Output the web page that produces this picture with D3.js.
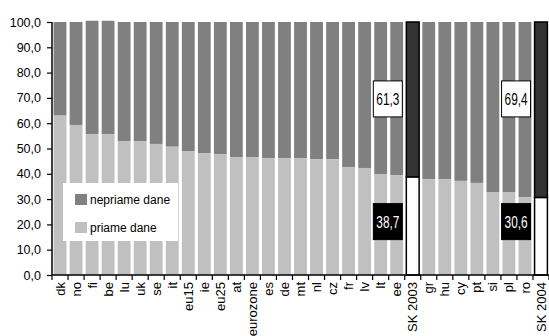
<!DOCTYPE html>
<html><head><meta charset="utf-8">
<script src="https://cdn.jsdelivr.net/npm/d3@7"></script>
<style>
html,body{margin:0;padding:0;background:#fff;}
svg{display:block;font-family:"Liberation Sans",Arial,sans-serif;}
</style></head>
<body>
<svg id="chart" width="549" height="336"></svg>
<script>
const categories = ["dk","no","fi","be","lu","uk","se","it","eu15","ie","eu25","at","eurozone","es","de","mt","nl","cz","fr","lv","lt","ee","SK 2003","gr","hu","cy","pt","si","pl","ro","SK 2004"];
const direct   = [63.0,59.3,55.7,55.7,52.8,52.8,51.8,50.7,49.0,48.2,47.8,46.6,46.6,46.2,46.2,46.2,45.8,45.8,42.7,42.3,39.9,39.5,38.7,37.9,37.9,37.2,36.4,32.8,32.8,30.8,30.6];
const indirect = [37.0,40.7,44.8,44.8,47.2,47.2,48.2,49.3,51.0,51.8,52.2,53.4,53.4,53.8,53.8,53.8,54.2,54.2,57.3,57.7,60.1,60.5,61.3,62.1,62.1,62.8,63.6,67.2,67.2,69.2,69.4];
const highlighted = ["SK 2003","SK 2004"];
const yTicks = [0,10,20,30,40,50,60,70,80,90,100];
const seriesNames = ["nepriame dane","priame dane"];

const svg = d3.select("#chart");
const m = {left:52, right:549, top:22, bottom:275};
const x = d3.scaleBand().domain(categories).range([m.left, m.right]).paddingInner(0.2).paddingOuter(0.1);
const y = d3.scaleLinear().domain([0,100]).range([m.bottom, m.top]);
const fmt = v => d3.format(".1f")(v).replace(".", ",");

const data = categories.map((c,i)=>({c, d:direct[i], n:indirect[i], hl: highlighted.includes(c)}));

// indirect (top)
svg.append("g").selectAll("rect").data(data).join("rect")
  .attr("x", d=>x(d.c)).attr("width", x.bandwidth())
  .attr("y", d=>y(d.d + d.n)).attr("height", d=>y(d.d) - y(d.d + d.n))
  .attr("fill", d=>d.hl ? "#333333" : "#808080")
  .attr("stroke", d=>d.hl ? "#000" : "none").attr("stroke-width", 1.5);
// direct (bottom)
svg.append("g").selectAll("rect").data(data).join("rect")
  .attr("x", d=>x(d.c)).attr("width", x.bandwidth())
  .attr("y", d=>y(d.d)).attr("height", d=>y(0) - y(d.d))
  .attr("fill", d=>d.hl ? "#ffffff" : "#c0c0c0")
  .attr("stroke", d=>d.hl ? "#000" : "none").attr("stroke-width", 1.5);

// legend
const lg = svg.append("g");
lg.append("rect").attr("x",63).attr("y",183).attr("width",115).attr("height",58).attr("fill","#fff");
[["#808080",seriesNames[0],194],["#c0c0c0",seriesNames[1],222]].forEach(([col,t,yy])=>{
  lg.append("rect").attr("x",75).attr("y",yy).attr("width",12).attr("height",11).attr("fill",col);
  lg.append("text").attr("x",90).attr("y",yy+9.5).attr("font-size",12).attr("fill","#000").text(t);
});

// y axis
const ya = svg.append("g").attr("transform",`translate(${m.left},0)`)
  .call(d3.axisLeft(y).tickValues(yTicks).tickFormat(fmt).tickSize(5).tickPadding(6));
ya.select(".domain").attr("stroke","#000").attr("stroke-width",1.5).attr("d",`M0,${y(0)}V${y(100)}`);
ya.selectAll(".tick line").attr("stroke","#000").attr("stroke-width",1.2);
ya.selectAll("text").attr("font-size",12.5).attr("font-family","'Liberation Sans',Arial,sans-serif").attr("fill","#000");

// x axis
const xa = svg.append("g").attr("transform",`translate(0,${m.bottom})`);
xa.append("line").attr("x1",m.left).attr("x2",m.right).attr("y1",0).attr("y2",0).attr("stroke","#000").attr("stroke-width",1.5);
const step = x.step();
const bounds = categories.map(c=>x(c) - step*x.paddingInner()/2).concat([x(categories[categories.length-1]) + x.bandwidth() + step*x.paddingInner()/2]);
xa.selectAll("line.t").data(bounds).join("line").attr("class","t")
  .attr("x1",d=>d).attr("x2",d=>d).attr("y1",0).attr("y2",5).attr("stroke","#000").attr("stroke-width",1.2);
xa.selectAll("text").data(categories).join("text")
  .attr("transform", c=>`translate(${x(c)+x.bandwidth()/2},7) rotate(-90)`)
  .attr("text-anchor","end").attr("dy","0.35em").attr("font-size",13).attr("fill","#000").text(c=>c);

// value boxes next to highlighted bars
data.filter(d=>d.hl).forEach(d=>{
  const right = x(d.c) - 4, w = 29, h = 36;
  const boxes = [
    {v:d.n, cy:y(69.6), fill:"#fff", tc:"#000"},
    {v:d.d, cy:y(21.1), fill:"#000", tc:"#fff"}
  ];
  boxes.forEach(b=>{
    svg.append("rect").attr("x", right - w).attr("y", b.cy - h/2).attr("width", w).attr("height", h)
      .attr("fill", b.fill).attr("stroke","#000").attr("stroke-width",1);
    svg.append("text").attr("x", right - w/2).attr("y", b.cy + 6).attr("text-anchor","middle")
      .attr("font-size",17).attr("textLength",23).attr("lengthAdjust","spacingAndGlyphs")
      .attr("fill", b.tc).text(fmt(b.v));
  });
});
</script>
</body></html>
